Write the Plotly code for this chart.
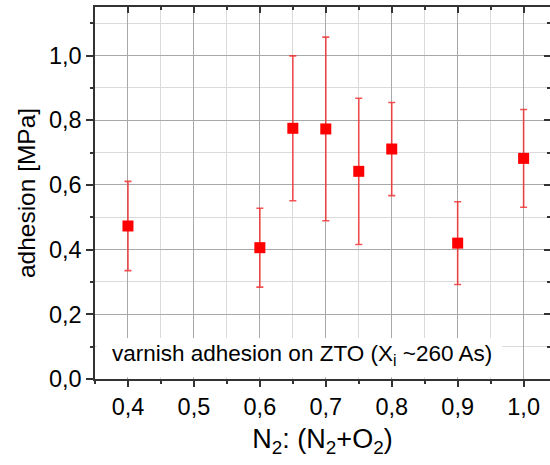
import plotly.graph_objects as go

ratio = [0.4, 0.6, 0.65, 0.7, 0.75, 0.8, 0.9, 1.0]
adhesion = [0.473, 0.406, 0.775, 0.773, 0.642, 0.711, 0.420, 0.682]
adhesion_err = [0.138, 0.122, 0.224, 0.284, 0.226, 0.144, 0.128, 0.151]

x_ticks = [0.4, 0.5, 0.6, 0.7, 0.8, 0.9, 1.0]
y_ticks = [0.0, 0.2, 0.4, 0.6, 0.8, 1.0]
x_range = [0.35, 1.04]
y_range = [0.0, 1.15]

font_family = "Liberation Sans, Arial, sans-serif"

fig = go.Figure()
fig.add_trace(go.Scatter(
    x=ratio, y=adhesion, mode="markers",
    marker=dict(symbol="square", size=11, color="#ff0000", line=dict(width=0)),
    error_y=dict(type="data", array=adhesion_err, visible=True,
                 color="rgba(240,40,40,0.8)", thickness=1.6, width=3.5),
    showlegend=False,
))
# empty trace to hold mirrored axes
fig.add_trace(go.Scatter(x=[], y=[], xaxis="x2", yaxis="y2", showlegend=False))

major_grid = "#a8a8a8"
minor_grid = "#dadada"

fig.update_layout(
    width=550, height=465,
    margin=dict(l=95, r=0, t=7, b=86),
    paper_bgcolor="white", plot_bgcolor="white",
    separators=",.",
    font=dict(family=font_family, color="black"),
    xaxis=dict(
        range=x_range, tickvals=x_ticks, tickformat=".1f",
        ticks="outside", ticklen=6, tickwidth=1.5, tickcolor="#333",
        showline=True, linecolor="#333", linewidth=1.5,
        showgrid=True, gridcolor=major_grid, gridwidth=1.3,
        minor=dict(dtick=0.05, tick0=0.35, ticks="outside", ticklen=3, tickcolor="#333",
                   showgrid=True, gridcolor=minor_grid, gridwidth=1.3),
        tickfont=dict(size=23.5), zeroline=False,
        title=dict(text="N<sub>2</sub>: (N<sub>2</sub>+O<sub>2</sub>)", font=dict(size=27), standoff=10),
    ),
    yaxis=dict(
        range=y_range, tickvals=y_ticks, tickformat=".1f",
        ticks="outside", ticklen=7, tickwidth=1.5, tickcolor="#333",
        showline=True, linecolor="#333", linewidth=1.5,
        showgrid=True, gridcolor=major_grid, gridwidth=1.3,
        minor=dict(dtick=0.1, tick0=0.0, ticks="outside", ticklen=3, tickcolor="#333",
                   showgrid=True, gridcolor=minor_grid, gridwidth=1.3),
        tickfont=dict(size=23.5), zeroline=False,
        title=dict(text="adhesion [MPa]", font=dict(size=24.5), standoff=6),
    ),
    xaxis2=dict(
        overlaying="x", side="top", anchor="y", range=x_range, tickvals=x_ticks,
        ticks="inside", ticklen=6, tickwidth=1.5, tickcolor="#333",
        showline=True, linecolor="#333", linewidth=1.5,
        showticklabels=False, showgrid=False, zeroline=False,
        minor=dict(dtick=0.05, tick0=0.35, ticks="inside", ticklen=3, tickcolor="#333", showgrid=False),
    ),
    yaxis2=dict(
        overlaying="y", side="right", anchor="x", range=y_range, tickvals=y_ticks,
        ticks="inside", ticklen=6, tickwidth=1.5, tickcolor="#333",
        showline=True, linecolor="#333", linewidth=1.5,
        showticklabels=False, showgrid=False, zeroline=False,
        minor=dict(dtick=0.1, tick0=0.0, ticks="inside", ticklen=3, tickcolor="#333", showgrid=False),
    ),
)

fig.add_shape(type="rect", xref="x domain", yref="y domain",
              x0=0.004, x1=0.8945, y0=0.005, y1=0.11,
              fillcolor="white", line=dict(width=0), layer="above")
fig.add_annotation(xref="x domain", yref="y domain", x=0.033, y=0.064,
                   xanchor="left", yanchor="middle", showarrow=False,
                   text="varnish adhesion on ZTO (X<sub>i</sub> ~260 As)",
                   font=dict(size=22.5, family=font_family, color="black"))

fig.write_html("out.html")
